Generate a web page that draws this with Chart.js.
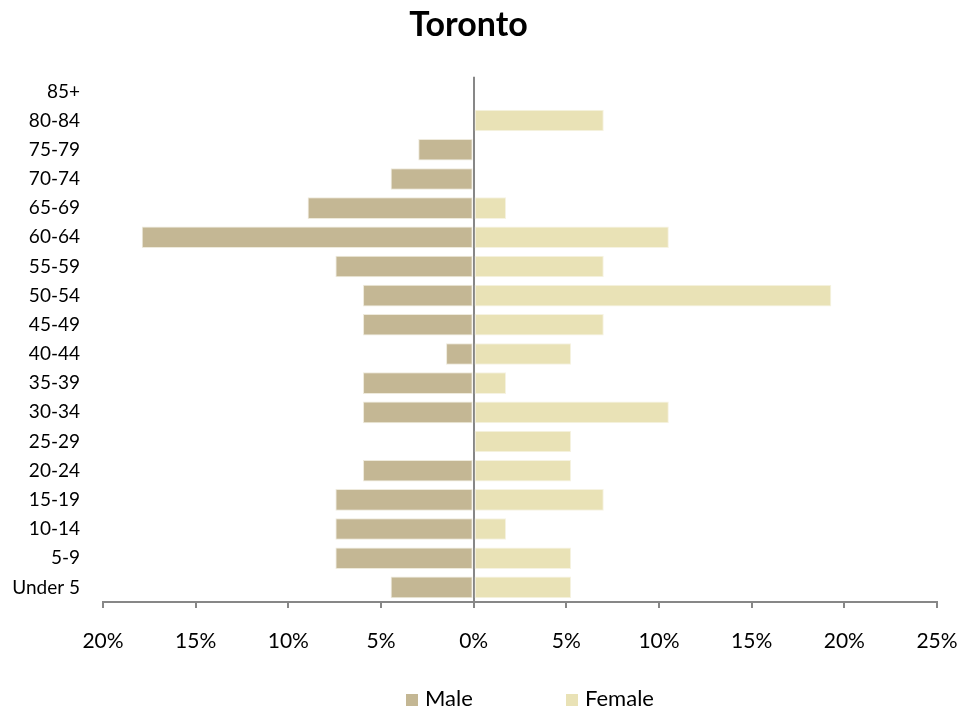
<!DOCTYPE html>
<html>
<head>
<meta charset="utf-8">
<script src="https://cdn.jsdelivr.net/npm/chart.js@4.4.1/dist/chart.umd.min.js"></script>
<style>
  html, body { margin: 0; padding: 0; background: #fff; }
  #wrap { position: relative; width: 979px; height: 713px; }
  #legend { position: absolute; left: 0; top: 684px; width: 979px; height: 28px;
    font-family: Lato, "Open Sans", sans-serif; font-size: 22px; color: #000; }
  #legend span.item { position: absolute; top: 0; line-height: 28px; white-space: nowrap; }
  #legend span.box { display: inline-block; width: 12px; height: 12px; margin-right: 7px; vertical-align: 0px; }
</style>
</head>
<body>
<div id="wrap">
  <canvas id="myChart"></canvas>
  <div id="legend"></div>
</div>
<script>
// age groups, top to bottom as in the picture
const ageGroups = ['85+', '80-84', '75-79', '70-74', '65-69', '60-64', '55-59', '50-54', '45-49',
  '40-44', '35-39', '30-34', '25-29', '20-24', '15-19', '10-14', '5-9', 'Under 5'];

// share of each sex in percent (male drawn to the left)
const maleValues = [0, 0, 2.99, 4.48, 8.96, 17.91, 7.46, 5.97, 5.97,
  1.49, 5.97, 5.97, 0, 5.97, 7.46, 7.46, 7.46, 4.48];
const femaleValues = [0, 7.02, 0, 0, 1.75, 10.53, 7.02, 19.30, 7.02,
  5.26, 1.75, 10.53, 5.26, 5.26, 7.02, 1.75, 5.26, 5.26];

const xTicks = [-20, -15, -10, -5, 0, 5, 10, 15, 20, 25];

const fontFamily = 'Lato, "Open Sans", sans-serif';
Chart.defaults.font.family = fontFamily;
Chart.defaults.color = '#000';

let grapharea = document.getElementById('myChart');
let myChart = new Chart(grapharea, {
  type: 'bar',
  data: {
    labels: ageGroups,
    datasets: [{
      label: 'Male',
      data: maleValues.map(v => -v),
      backgroundColor: '#C4B794',
      borderColor: '#EEEADC',
      borderWidth: 1,
      borderSkipped: false
    }, {
      label: 'Female',
      data: femaleValues,
      backgroundColor: '#E9E2B6',
      borderColor: '#F6F3E2',
      borderWidth: 1,
      borderSkipped: false
    }]
  },
  options: {
    indexAxis: 'y',
    responsive: true,
    maintainAspectRatio: false,
    animation: false,
    layout: { padding: { left: 0, right: 42, top: 0, bottom: 0 } },
    datasets: { bar: { barPercentage: 0.74, categoryPercentage: 1 } },
    plugins: {
      title: {
        display: true,
        text: 'Toronto',
        font: { size: 34, weight: 'bold', family: fontFamily },
        color: '#000',
        padding: { top: 5, bottom: 31 }
      },
      legend: { display: false },
      tooltip: { enabled: false }
    },
    scales: {
      x: {
        stacked: true,
        min: -20,
        max: 25,
        afterBuildTicks: (scale) => { scale.ticks = xTicks.map(v => ({ value: v })) },
        afterFit: (scale) => { scale.height = 111 },
        ticks: {
          padding: 21,
          font: { size: 21 },
          callback: (v) => Math.abs(v) + '%'
        },
        grid: {
          drawOnChartArea: true,
          color: (ctx) => (ctx.tick && ctx.tick.value === 0) ? '#878787' : 'rgba(0,0,0,0)',
          lineWidth: 2,
          tickColor: '#878787',
          tickWidth: 2,
          tickLength: 6
        },
        border: { display: true, color: '#878787', width: 2 }
      },
      y: {
        stacked: true,
        afterFit: (scale) => { scale.width = 103 },
        ticks: { padding: 23, autoSkip: false, font: { size: 19 } },
        grid: { display: false, drawTicks: false },
        border: { display: false }
      }
    }
  }
});

// html legend under the axis, colours taken from the datasets
const legendBox = document.getElementById('legend');
const legendLeft = [406, 566];
myChart.data.datasets.forEach((ds, i) => {
  let item = document.createElement('span');
  item.className = 'item';
  item.style.left = legendLeft[i] + 'px';
  let box = document.createElement('span');
  box.className = 'box';
  box.style.background = ds.backgroundColor;
  item.appendChild(box);
  item.appendChild(document.createTextNode(ds.label));
  legendBox.appendChild(item);
});
</script>
</body>
</html>
